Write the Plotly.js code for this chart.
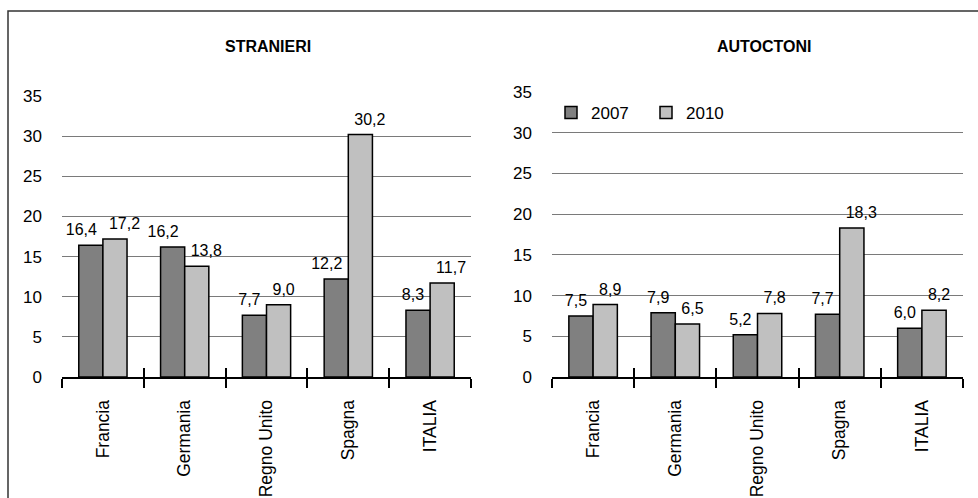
<!DOCTYPE html>
<html>
<head>
<meta charset="utf-8">
<script src="https://cdn.plot.ly/plotly-3.0.1.min.js"></script>
<style>
  html, body { margin: 0; padding: 0; background: #fff; }
  #chart { width: 978px; height: 498px; }
</style>
</head>
<body>
<div id="chart"></div>
<script>
var paesi = ['Francia', 'Germania', 'Regno Unito', 'Spagna', 'ITALIA'];
var stranieri2007 = [16.4, 16.2, 7.7, 12.2, 8.3];
var stranieri2010 = [17.2, 13.8, 9.0, 30.2, 11.7];
var autoctoni2007 = [7.5, 7.9, 5.2, 7.7, 6.0];
var autoctoni2010 = [8.9, 6.5, 7.8, 18.3, 8.2];
var anni = ['2007', '2010'];
var yTicks = [0, 5, 10, 15, 20, 25, 30, 35];

var fontFam = 'Liberation Sans, Arial, sans-serif';
var colDark = '#808080';
var colLight = '#c0c0c0';

function barTrace(vals, name, color, xa, ya, legend) {
  return {
    type: 'bar', x: paesi, y: vals, name: name, xaxis: xa, yaxis: ya,
    marker: {color: color, line: {color: '#000', width: 1.5}},
    showlegend: legend, hoverinfo: 'skip'
  };
}

// value labels: 2007 to the left of the category centre, 2010 to the right
// (invisible markers only give the text some room above the bar)
function labelTrace(vals, pos, xa, ya) {
  return {
    type: 'scatter', mode: 'markers+text', x: paesi, y: vals, xaxis: xa, yaxis: ya,
    texttemplate: '%{y:.1f}', textposition: pos, cliponaxis: false,
    marker: {size: 8, opacity: 0},
    textfont: {family: fontFam, size: 16, color: '#000'},
    showlegend: false, hoverinfo: 'skip'
  };
}

// empty traces just to create the overlay axes for the inner half of the ticks
function tickTrace(xa, ya) {
  return {type: 'scatter', x: [], y: [], xaxis: xa, yaxis: ya, showlegend: false, hoverinfo: 'skip'};
}

var data = [
  barTrace(stranieri2007, anni[0], colDark, 'x', 'y', true),
  barTrace(stranieri2010, anni[1], colLight, 'x', 'y', true),
  barTrace(autoctoni2007, anni[0], colDark, 'x2', 'y2', false),
  barTrace(autoctoni2010, anni[1], colLight, 'x2', 'y2', false),
  labelTrace(stranieri2007, 'top left', 'x', 'y'),
  labelTrace(stranieri2010, 'top right', 'x', 'y'),
  labelTrace(autoctoni2007, 'top left', 'x2', 'y2'),
  labelTrace(autoctoni2010, 'top right', 'x2', 'y2'),
  tickTrace('x3', 'y'),
  tickTrace('x4', 'y2')
];

var W = 978, H = 498;
function px(v) { return v / W; }
function py(v) { return 1 - v / H; }

function catAxis(dom, anchor) {
  return {
    domain: dom, anchor: anchor, type: 'category', range: [-0.5, 4.5],
    showline: true, linecolor: '#000', linewidth: 2,
    ticks: 'outside', tickson: 'boundaries', ticklen: 9, tickwidth: 2, tickcolor: '#000',
    tickangle: -90, tickfont: {family: fontFam, size: 17.5, color: '#000'},
    ticklabelstandoff: 14, showgrid: false, zeroline: false, fixedrange: true
  };
}
function innerTicks(overlay, anchor) {
  return {
    overlaying: overlay, anchor: anchor, type: 'linear', range: [-0.5, 4.5],
    tickmode: 'array', tickvals: [-0.5, 0.5, 1.5, 2.5, 3.5, 4.5],
    ticks: 'inside', ticklen: 9, tickwidth: 2, tickcolor: '#000',
    showticklabels: false, showgrid: false, zeroline: false, showline: false, fixedrange: true
  };
}
function valAxis(dom, anchor) {
  return {
    domain: dom, anchor: anchor, range: [0, 35], tickmode: 'array', tickvals: yTicks,
    showgrid: true, gridcolor: '#7a7a7a', gridwidth: 1, zeroline: false,
    showline: false, ticks: '', ticklabelstandoff: 19,
    tickfont: {family: fontFam, size: 17, color: '#000'}, fixedrange: true
  };
}

var dom1 = [px(62), px(471)];
var dom2 = [px(552), px(963)];

var layout = {
  width: W, height: H,
  margin: {l: 0, r: 0, t: 0, b: 0},
  paper_bgcolor: '#fff', plot_bgcolor: '#fff',
  separators: ',.',
  barmode: 'group', bargap: 0.41, bargroupgap: 0,
  font: {family: fontFam, color: '#000'},
  xaxis: catAxis(dom1, 'y'),
  yaxis: valAxis([py(377), py(96)], 'x'),
  xaxis2: catAxis(dom2, 'y2'),
  yaxis2: valAxis([py(377), py(92)], 'x2'),
  xaxis3: innerTicks('x', 'y'),
  xaxis4: innerTicks('x2', 'y2'),
  showlegend: true,
  legend: {
    orientation: 'h', x: px(551), y: py(95), xanchor: 'left', yanchor: 'top',
    bgcolor: 'rgba(0,0,0,0)', font: {family: fontFam, size: 17, color: '#000'},
    entrywidth: 50, traceorder: 'normal'
  },
  annotations: [
    {text: '<b>STRANIERI</b>', xref: 'paper', yref: 'paper', x: px(268), y: py(47),
     xanchor: 'center', yanchor: 'middle', showarrow: false, font: {family: fontFam, size: 16, color: '#000'}},
    {text: '<b>AUTOCTONI</b>', xref: 'paper', yref: 'paper', x: px(764), y: py(47),
     xanchor: 'center', yanchor: 'middle', showarrow: false, font: {family: fontFam, size: 16, color: '#000'}}
  ],
  shapes: [
    {type: 'rect', xref: 'paper', yref: 'paper', x0: px(8), x1: px(990), y0: py(520), y1: py(11),
     line: {color: '#333', width: 1.5}, fillcolor: 'rgba(0,0,0,0)', layer: 'below'}
  ]
};

Plotly.newPlot(document.getElementById('chart'), data, layout, {displayModeBar: false, staticPlot: true});
</script>
</body>
</html>
